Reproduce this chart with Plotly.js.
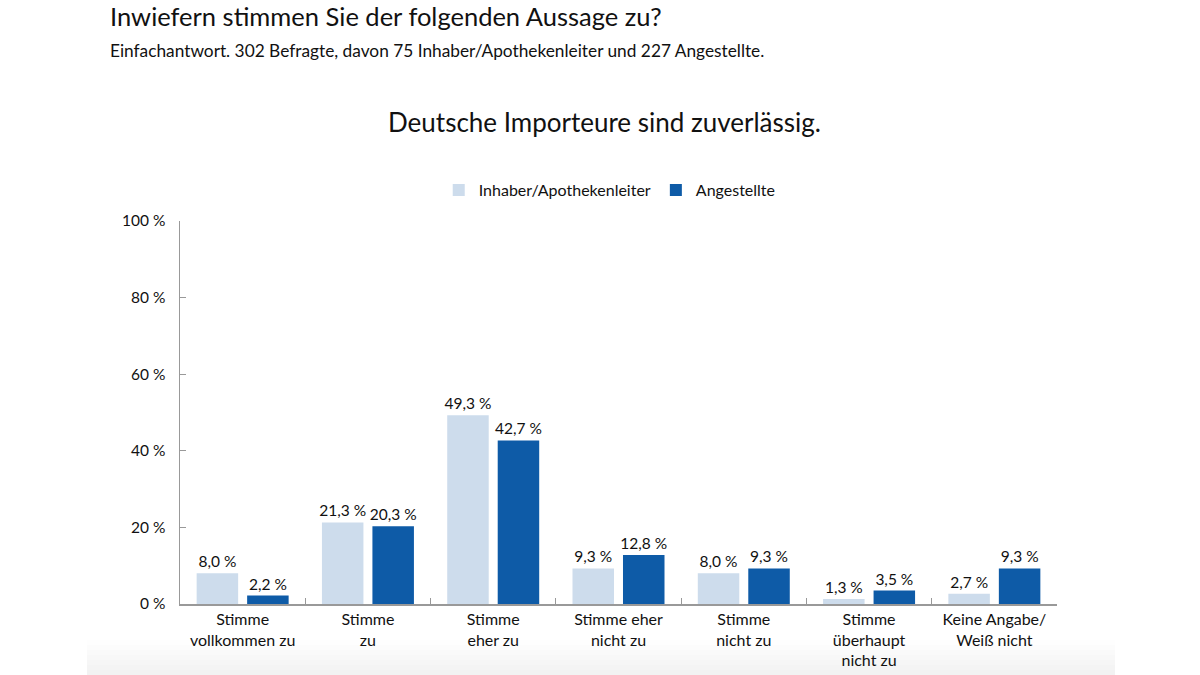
<!DOCTYPE html>
<html>
<head>
<meta charset="utf-8">
<script src="https://cdn.plot.ly/plotly-3.0.1.min.js"></script>
<style>html,body{margin:0;padding:0;background:#fff;}#chart{width:1200px;height:675px;}</style>
</head>
<body>
<div id="chart"></div>
<script>
const categories = ["Stimme<br>vollkommen zu", "Stimme<br>zu", "Stimme<br>eher zu", "Stimme eher<br>nicht zu", "Stimme<br>nicht zu", "Stimme<br>überhaupt<br>nicht zu", "Keine Angabe/<br>Weiß nicht"];
const inhaber = [8.0, 21.3, 49.3, 9.3, 8.0, 1.3, 2.7];
const angestellte = [2.2, 20.3, 42.7, 12.8, 9.3, 3.5, 9.3];
const seriesNames = ["Inhaber/Apothekenleiter", "Angestellte"];
const yTicks = [0, 20, 40, 60, 80, 100];

const fmt = v => v.toFixed(1).replace('.', ',') + ' %';
const font = "Lato, 'Open Sans', sans-serif";

const traces = [
  {type: 'bar', name: seriesNames[0], x: categories, y: inhaber, text: inhaber.map(fmt),
   textposition: 'outside', cliponaxis: false, constraintext: 'none', marker: {color: '#cddcec'},
   textfont: {size: 15.5, color: '#111', family: font}, hoverinfo: 'skip'},
  {type: 'bar', name: seriesNames[1], x: categories, y: angestellte, text: angestellte.map(fmt),
   textposition: 'outside', cliponaxis: false, constraintext: 'none', marker: {color: '#0e5ba7'},
   textfont: {size: 15.5, color: '#111', family: font}, hoverinfo: 'skip'}
];

const shapes = [];
const grads = ['#fefefe', '#fcfcfc', '#fafafa', '#f8f8f8', '#f6f6f6', '#f4f4f4', '#f2f2f2'];
for (let i = 0; i < grads.length; i++) {
  shapes.push({type: 'rect', xref: 'paper', yref: 'paper', layer: 'below', line: {width: 0},
    fillcolor: grads[i], x0: (87 - 180) / 877, x1: (1115 - 180) / 877,
    y0: (604 - (640 + i * 5)) / 383, y1: (604 - (645 + i * 5)) / 383});
}

const layout = {
  width: 1200, height: 675,
  margin: {l: 180, r: 143, t: 221, b: 71},
  paper_bgcolor: '#fff', plot_bgcolor: 'rgba(0,0,0,0)',
  font: {family: font, color: '#111', size: 15},
  separators: ', ',
  barmode: 'group', bargap: 0.194, bargroupgap: 0.178,
  showlegend: true,
  legend: {orientation: 'h', x: 0.49, xanchor: 'center', y: 1.081, yanchor: 'middle',
    font: {size: 16, family: font}, itemwidth: 30, traceorder: 'normal'},
  title: {text: 'Inwiefern stimmen Sie der folgenden Aussage zu?', xref: 'container', yref: 'container',
    x: 110 / 1200, xanchor: 'left', y: 1 - 17 / 675, yanchor: 'middle', font: {size: 25.5, family: font, color: '#111'}},
  xaxis: {type: 'category', showline: true, linecolor: '#999', linewidth: 1.5, ticks: 'inside',
    tickson: 'boundaries', ticklen: 6, tickcolor: '#999', showgrid: false, zeroline: false,
    tickfont: {size: 16, family: font}, fixedrange: true},
  yaxis: {range: [0, 100], tickmode: 'array', tickvals: yTicks, ticktext: yTicks.map(v => v + ' %'),
    showline: true, linecolor: '#999', ticklabelstandoff: 10,
    linewidth: 1.5, ticks: 'inside', ticklen: 6, tickcolor: '#999', showgrid: false, zeroline: false,
    tickfont: {size: 15.5, family: font}, fixedrange: true},
  shapes: shapes,
  annotations: [
    {text: 'Einfachantwort. 302 Befragte, davon 75 Inhaber/Apothekenleiter und 227 Angestellte.',
     xref: 'paper', yref: 'paper', x: (108 - 180) / 877, xanchor: 'left', y: (604 - 50) / 383, yanchor: 'middle',
     showarrow: false, font: {size: 17.3, family: font, color: '#111'}},
    {text: 'Deutsche Importeure sind zuverlässig.', xref: 'paper', yref: 'paper',
     x: (604 - 180) / 877, xanchor: 'center', y: (604 - 122) / 383, yanchor: 'middle',
     showarrow: false, font: {size: 26, family: font, color: '#111'}}
  ]
};

Plotly.newPlot('chart', traces, layout, {displayModeBar: false, staticPlot: true});
</script>
</body>
</html>
